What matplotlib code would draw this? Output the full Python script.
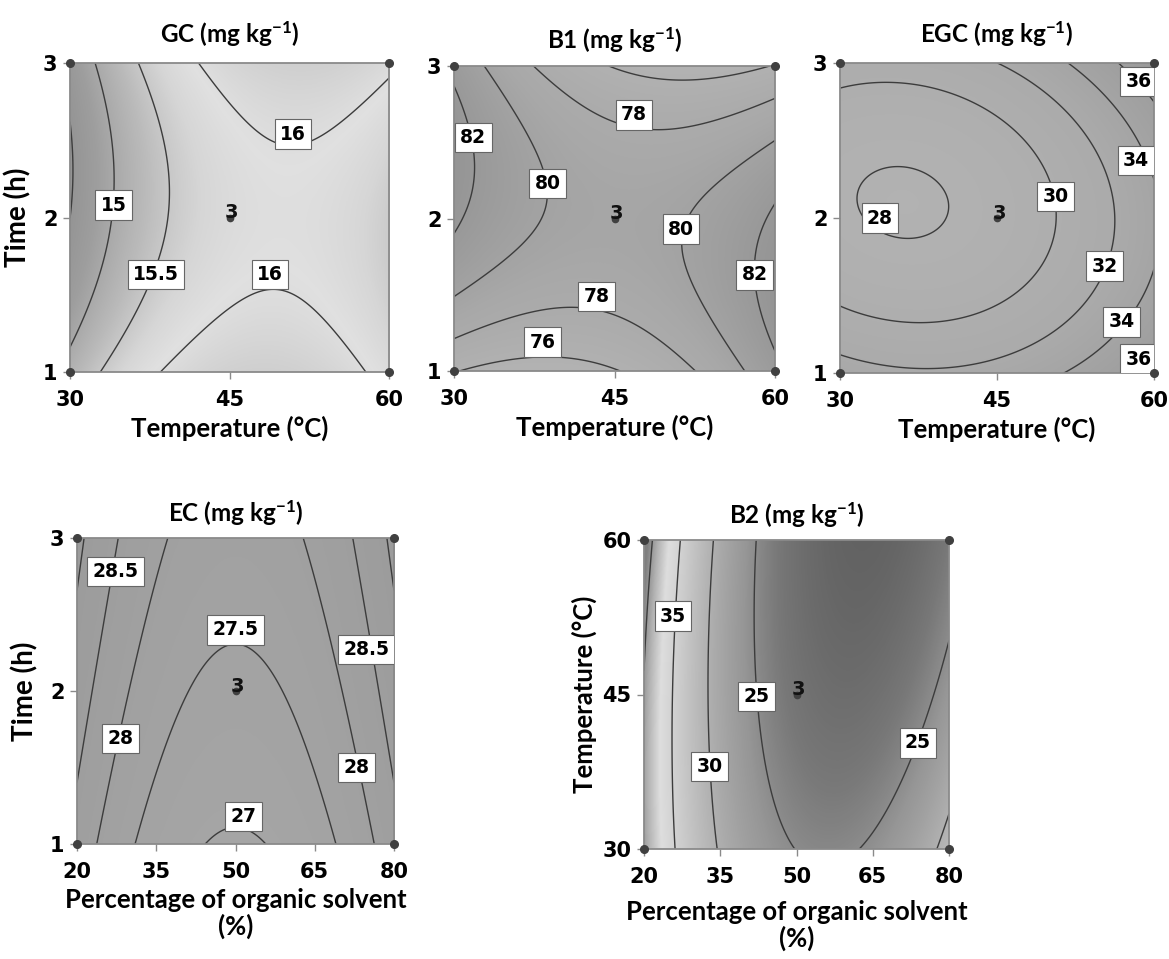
import numpy as np
import matplotlib
matplotlib.use("Agg")
import matplotlib.pyplot as plt
from matplotlib.colors import LinearSegmentedColormap, Normalize

# ---------------- data ----------------
# response-surface coefficients in coded units (-1..1): [b0, bx, by, bxy, bxx, byy]
gc_coef = [15.822, 0.526, -0.063, 0.19, -0.797, 0.41]
b1_coef = [79.4, 0.0, 0.0, -2.7, 2.9, -3.5]
egc_coef = [28.64, 2.73, -0.35, 0.65, 2.33, 3.7]
ec_coef = [27.38, 0.0, 0.40, 0.0, 1.37, -0.03]
b2_coef = [22.53, -6.752, -1.57, -2.53, 10.55, 0.85]

compounds = ["GC", "B1", "EGC", "EC", "B2"]

temp_ticks = [30, 45, 60]
time_ticks = [1, 2, 3]
solvent_ticks = [20, 35, 50, 65, 80]

gc_levels = [14.5, 15, 15.5, 16]
b1_levels = [76, 78, 80, 82]
egc_levels = [28, 30, 32, 34, 36]
ec_levels = [27, 27.5, 28, 28.5, 29]
b2_levels = [25, 30, 35, 40]

center_runs = [3, 3, 3, 3, 3]

# label anchor points (x, y in axis units)
gc_lab = [(34.1, 2.08), (38.1, 1.63), (51.0, 2.54), (48.8, 1.63)]
b1_lab = [(31.8, 2.53), (38.75, 2.23), (46.8, 2.68), (51.2, 1.93),
          (58.1, 1.63), (43.3, 1.49), (38.25, 1.19)]
egc_lab = [(33.8, 2.0), (50.6, 2.14), (55.3, 1.69), (58.3, 2.37),
           (56.9, 1.33), (58.5, 2.88), (58.5, 1.09)]
ec_lab = [(27.25, 2.78), (50.0, 2.40), (74.8, 2.27), (28.2, 1.69),
          (72.9, 1.50), (51.5, 1.18)]
b2_lab = [(25.7, 52.6), (42.1, 44.8), (32.9, 38.0), (73.9, 40.3)]

# ---------------- style ----------------
plt.rcParams["mathtext.fontset"] = "custom"
plt.rcParams["mathtext.rm"] = "Lato"
plt.rcParams["mathtext.bf"] = "Lato:bold"
plt.rcParams["mathtext.it"] = "Lato:italic"

W, H = 1169, 959
fig = plt.figure(figsize=(W / 100, H / 100), dpi=100)


def rect(l, r, t, b):
    return [l / W, 1 - b / H, (r - l) / W, (b - t) / H]


panels = [
    dict(coef=gc_coef, levels=gc_levels, lab=gc_lab, xr=(30, 60), yr=(1, 3),
         xt=temp_ticks, yt=time_ticks, xl="Temperature (°C)", yl="Time (h)",
         box=rect(70, 389, 63, 372), ylpad=8, ylsize=20, xlpad=4, tpad=15,
         cmap=[(14.3, .56), (14.8, .62), (15.3, .73), (15.7, .84), (15.95, .88), (16.4, .80)]),
    dict(coef=b1_coef, levels=b1_levels, lab=b1_lab, xr=(30, 60), yr=(1, 3),
         xt=temp_ticks, yt=time_ticks, xl="Temperature (°C)", yl=None,
         box=rect(454, 775, 66, 371), ylpad=8, ylsize=20, xlpad=4, tpad=13,
         cmap=[(75.5, .70), (79, .66), (83, .58)]),
    dict(coef=egc_coef, levels=egc_levels, lab=egc_lab, xr=(30, 60), yr=(1, 3),
         xt=temp_ticks, yt=time_ticks, xl="Temperature (°C)", yl=None,
         box=rect(840, 1154, 63, 373), ylpad=8, ylsize=20, xlpad=4, tpad=15,
         cmap=[(27.5, .70), (32, .67), (38, .60)]),
    dict(coef=ec_coef, levels=ec_levels, lab=ec_lab, xr=(20, 80), yr=(1, 3),
         xt=solvent_ticks, yt=time_ticks, xl="Percentage of organic solvent\n(%)",
         yl="Time (h)", box=rect(77, 394, 538, 844), ylpad=8, ylsize=20, xlpad=4, tpad=12,
         cmap=[(26.9, .65), (28, .63), (29.2, .61)]),
    dict(coef=b2_coef, levels=b2_levels, lab=b2_lab, xr=(20, 80), yr=(30, 60),
         xt=solvent_ticks, yt=temp_ticks, xl="Percentage of organic solvent\n(%)",
         yl="Temperature (°C)", box=rect(644, 949, 540, 849), ylpad=4, ylsize=18.5,
         xlpad=9, tpad=12,
         cmap=[(19.5, .38), (23, .47), (26, .59), (30, .69), (34, .80), (37, .87), (39, .70), (41, .50)]),
]

line_col = "#3c3c3c"
frame_col = "#8a8a8a"

for name, p, n3 in zip(compounds, panels, center_runs):
    ax = fig.add_axes(p["box"])
    x0, x1 = p["xr"]
    y0, y1 = p["yr"]
    xs = np.linspace(x0, x1, 300)
    ys = np.linspace(y0, y1, 300)
    X, Y = np.meshgrid(xs, ys)
    u = (X - (x0 + x1) / 2) / ((x1 - x0) / 2)
    v = (Y - (y0 + y1) / 2) / ((y1 - y0) / 2)
    b0, bx, by, bxy, bxx, byy = p["coef"]
    Z = b0 + bx * u + by * v + bxy * u * v + bxx * u ** 2 + byy * v ** 2

    vals = [a for a, _ in p["cmap"]]
    lo, hi = vals[0], vals[-1]
    cm = LinearSegmentedColormap.from_list(
        name, [((a - lo) / (hi - lo), (g, g, g)) for a, g in p["cmap"]])
    ax.imshow(Z, origin="lower", extent=(x0, x1, y0, y1), aspect="auto",
              cmap=cm, norm=Normalize(lo, hi), interpolation="bilinear")
    cs = ax.contour(X, Y, Z, levels=p["levels"], colors=line_col, linewidths=1.0)
    texts = ax.clabel(cs, manual=p["lab"], inline=False, fontsize=13.5,
                      fmt=lambda val: f"{val:g}")
    for t, pos in zip(texts, p["lab"]):
        t.set_position(pos)
        t.set_rotation(0)
        t.set_fontweight("bold")
        t.set_color("black")
        t.set_zorder(5)
        t.set_bbox(dict(boxstyle="square,pad=0.28", fc="white", ec="#666666", lw=0.8))

    ax.set_xlim(x0, x1)
    ax.set_ylim(y0, y1)
    ax.set_xticks(p["xt"])
    ax.set_yticks(p["yt"])
    ax.tick_params(direction="out", length=5, width=1, color=frame_col)
    ax.tick_params(axis="x", pad=8)
    ax.tick_params(axis="y", pad=4)
    for lab in ax.get_xticklabels() + ax.get_yticklabels():
        lab.set_fontsize(15)
        lab.set_fontweight("bold")
        lab.set_family("DejaVu Sans")
    for s in ax.spines.values():
        s.set_color(frame_col)
        s.set_linewidth(1.3)

    # design points: corners and centre
    cx, cy = (x0 + x1) / 2, (y0 + y1) / 2
    ax.plot([x0, x1, x0, x1], [y0, y0, y1, y1], "o", ms=5.5, color="#404040",
            clip_on=False, zorder=6)
    ax.plot([cx], [cy], "o", ms=4.5, color="#404040", zorder=6)
    ax.annotate(str(n3), (cx, cy), xytext=(1.5, -3.5), textcoords="offset points",
                ha="center", va="bottom", fontsize=14, fontweight="bold",
                color="#111111", zorder=7)

    ax.set_title(name + r" (mg kg$^{\mathbf{-1}}$)", fontsize=17.5,
                 fontweight="bold", family="Lato", pad=p["tpad"])
    ax.set_xlabel(p["xl"], fontsize=18.5, fontweight="bold", family="Lato",
                  labelpad=p["xlpad"], linespacing=1.1)
    if p["yl"]:
        ax.set_ylabel(p["yl"], fontsize=p["ylsize"], fontweight="bold", family="Lato",
                      labelpad=p["ylpad"])

fig.savefig("out.png", dpi=100)
